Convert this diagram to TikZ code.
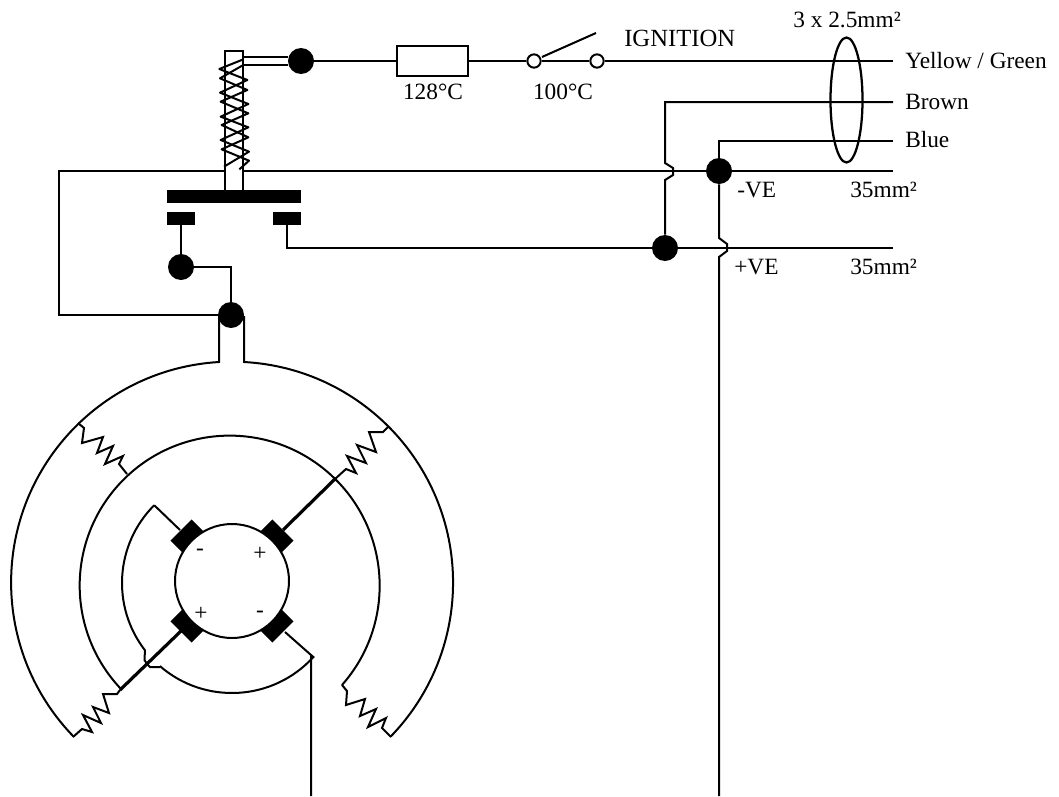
\documentclass[tikz,border=0pt]{standalone}
\usepackage{fontspec}
\setmainfont{Liberation Serif}
\tikzset{
  wire/.style={line width=1.5pt,line join=miter},
  fatwire/.style={line width=2.4pt},
  junction/.style={circle,fill=black,draw=none,minimum size=19.5pt,inner sep=0pt},
  terminal/.style={circle,fill=white,draw=black,line width=1.5pt,minimum size=10pt,inner sep=0pt},
  bar/.style={fill=black,draw=none},
  lab/.style={font=\fontsize{17.5}{20}\selectfont,inner sep=0pt,text=black},
  sign/.style={font=\fontsize{17.5}{20}\selectfont,inner sep=0pt,text=black},
}
\begin{document}
\begin{tikzpicture}[x=0.75pt,y=-0.75pt]
\useasboundingbox (0,0) rectangle (1059,796);
\coordinate (C) at (232,581);
\coordinate (R) at (232,583);
% free ends
\coordinate (yEnd) at (893,61);
\coordinate (bEnd) at (893,102);
\coordinate (blEnd) at (893,141);
\coordinate (nEnd) at (893,171);
\coordinate (pEnd) at (893,248);
\coordinate (blBot) at (719,796);
\coordinate (brBot) at (311,796);
% nodes
\node[junction] (j1) at (301,61) {};
\node[junction] (j2) at (719,171) {};
\node[junction] (j3) at (665,248) {};
\node[junction] (j4) at (181,267) {};
\node[junction] (j5) at (231,315) {};
\node[draw=black,line width=1.5pt,fill=white,minimum width=53pt,minimum height=23pt,inner sep=0pt] (fuse) at (432.5,61) {};
\node[terminal] (s1) at (534,61) {};
\node[terminal] (s2) at (597,61) {};
% main horizontal lines
\draw[wire] (j1) -- (fuse);
\draw[wire] (fuse) -- (s1);
\draw[wire] (s1) -- (s2);
\draw[wire] (s2) -- (yEnd);
\draw[wire] (542,57) -- (596,33);
% negative rail
\draw[wire] (nEnd) -- (59,171) -- (59,315) -- (j5);
% solenoid
\draw[wire,fill=white] (225,190) -- (225,51) -- (243,51) -- (243,190);
\draw[wire] (243,57) -- (288,57) (243,65) -- (288,65);
\begin{scope}[shift={(150,30)},x=0.25pt,y=-0.25pt]
\draw[line width=1.5pt,line join=round]
 (280,88)--(208,117)--(292,150)--(210,188)--(295,222)--(212,260)--(295,292)--(212,330)--(297,365)--(222,410);
\draw[line width=1.5pt,line join=round]
 (280,105)--(210,145)--(292,180)--(212,215)--(295,250)--(215,285)--(295,322)--(215,358)--(297,392)--(268,418);
\end{scope}
\fill[bar] (167,190) rectangle (301,203);
\node[bar,minimum width=21pt,minimum height=9.75pt,inner sep=0pt] (cl) at (181,218.5) {};
\node[bar,minimum width=21pt,minimum height=9.75pt,inner sep=0pt] (cr) at (287,218.5) {};
% contacts wiring
\draw[wire] (cl) -- (j4);
\draw[wire] (j4) -| (j5);
\draw[wire] (cr.south) |- (j3);
\draw[wire] (j3) -- (727,248) -- (pEnd);
% brown
\draw[wire] (bEnd) -- (665,102) -- (665,163) -- (673,168) -- (673,175) -- (665,180) -- (j3);
% blue
\draw[wire] (blEnd) -- (719,141) -- (j2);
\draw[wire] (j2) -- (719,238) -- (727,244) -- (727,251) -- (719,257) -- (blBot);
% cable ellipse
\draw[line width=1.7pt] (846.5,100) ellipse (16 and 62.5);
% stator
\draw[wire] (219,316) -- (219,362) arc[start angle=266.6,end angle=135.9,radius=221];
\draw[wire] (244,316) -- (244,362) arc[start angle=-86.9,end angle=44.1,radius=221];
% resistors
\draw[wire] (78,423)--(84,428)--(82,443)--(103,437)--(97,453)--(113,446)--(105,464)--(123,456)--(119,464)--(127,474);
\draw[wire] (388,427)--(383,432)--(369,432)--(376,452)--(357,445)--(366,463)--(347,456)--(356,473)--(346,469)--(335,479);
\draw[wire] (73,737)--(82,729)--(92,732)--(83,715)--(101,723)--(93,707)--(109,713)--(103,694)--(117,694)--(120,690);
\draw[wire] (342,685)--(347,691)--(346,705)--(365,699)--(360,716)--(376,709)--(368,727)--(386,718)--(382,728)--(391,737);
% second ring
\draw[wire] (342,685) arc[start angle=41.5,end angle=-223.4,radius=150];
% third ring
\draw[wire] (R) ++(225:110) coordinate (r3s) arc[start angle=225,end angle=142.3,radius=110] -- (144.5,660) -- (147,664) -- (150,667) -- (159.8,667);
\draw[wire] (R) ++(131:110) arc[start angle=131,end angle=42.3,radius=110] -- (311,655);
% brushes
\foreach \a in {45,135,225,315}{
  \begin{scope}[shift={(C)},rotate=-\a]
  \fill[bar] (45,-15) rectangle (72,15);
  \end{scope}
}
\draw[wire,fill=white] (C) circle (57);
\draw[wire] (r3s) -- (180,530);
\draw[fatwire] (120,690) -- (181,631);
\draw[fatwire] (335,479) -- (283,530);
\draw[wire] (brBot) -- (311,655) -- (285,632);
\node[sign] (m1) at (200,552) {-};
\node[sign] (p1) at (260,554) {+};
\node[sign] (p2) at (201,614) {+};
\node[sign] (m2) at (260,614) {-};
% labels
\node[lab] (t128) at (433,92) {128°C};
\node[lab] (t100) at (563,92) {100°C};
\node[lab,anchor=west,font=\fontsize{18.5}{20}\selectfont] (tign) at (624,38) {IGNITION};
\node[lab,anchor=west] (tcab) at (793,20) {3 x 2.5mm²};
\node[lab,anchor=west] (ty) at (905,61) {Yellow / Green};
\node[lab,anchor=west] (tb) at (905,102) {Brown};
\node[lab,anchor=west] (tbl) at (905,140) {Blue};
\node[lab,anchor=west] (tn) at (737,190) {-VE};
\node[lab,anchor=west] (tn2) at (850,190) {35mm²};
\node[lab,anchor=west] (tp) at (734,267) {+VE};
\node[lab,anchor=west] (tp2) at (850,267) {35mm²};
\end{tikzpicture}
\end{document}
